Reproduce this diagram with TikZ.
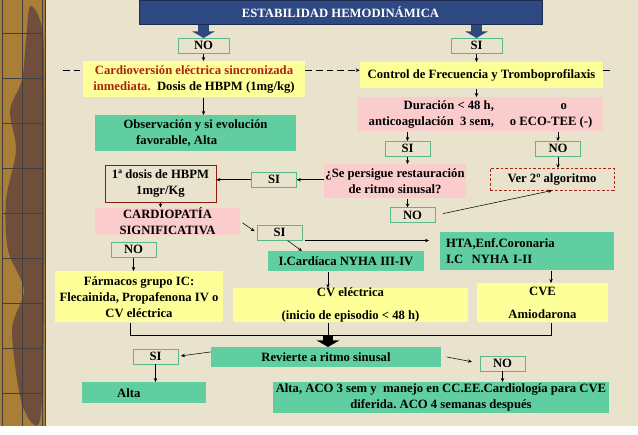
\documentclass[tikz,border=0pt]{standalone}
\usepackage{fontspec}
\setmainfont{Liberation Serif}
\usetikzlibrary{arrows.meta, positioning}
\definecolor{paper}{RGB}{233,227,205}
\definecolor{bandbrown}{RGB}{170,126,54}
\definecolor{banddark}{RGB}{112,78,60}
\definecolor{titleblue}{RGB}{46,72,130}
\definecolor{boxyellow}{RGB}{255,255,153}
\definecolor{boxpink}{RGB}{250,204,204}
\definecolor{boxgreen}{RGB}{96,206,160}
\definecolor{edgegreen}{RGB}{90,184,140}
\definecolor{darkred}{RGB}{170,34,20}
\tikzstyle{titlebox} = [rectangle, draw=titleblue!60!black, fill=titleblue, text=white, minimum width=302pt, minimum height=18pt]
\tikzstyle{ybox} = [rectangle, fill=boxyellow, align=center, inner sep=0pt]
\tikzstyle{pbox} = [rectangle, fill=boxpink, align=center, inner sep=0pt]
\tikzstyle{gbox} = [rectangle, fill=boxgreen, align=center, inner sep=0pt]
\tikzstyle{answer} = [rectangle, draw=edgegreen, minimum width=33.75pt, minimum height=11.25pt, inner sep=0pt]
\tikzstyle{verbox} = [rectangle, draw=darkred, dash pattern=on 2pt off 1.5pt, minimum width=93pt, minimum height=16.5pt, inner sep=0pt]
\tikzstyle{dosisbox} = [rectangle, draw=darkred!85!black, line width=0.6pt, align=center, inner sep=0pt]
\tikzstyle{connector} = [thin, -{Stealth[length=3pt, width=2.6pt]}]
\tikzstyle{dashconn} = [thin, dash pattern=on 5pt off 3pt]
\tikzstyle{blockarrow} = [line width=8pt, -{Triangle[length=5pt, width=17pt]}]

\begin{document}
\begin{tikzpicture}[x=0.75pt, y=-0.75pt, every node/.style={font=\bfseries\fontsize{9.5}{12}\selectfont}]

  % Background and left band
  \fill[paper] (0,0) rectangle (638,426);
  \fill[bandbrown] (0,0) rectangle (45,426);
  \fill[banddark] plot[smooth cycle] coordinates {(30,6) (40,20) (44,60) (44,300) (40,420) (22,404) (12,330) (24,290) (8,250) (6,200) (16,150) (10,110) (22,80) (26,40)};
  \draw[black!75] (2,0) -- (2,426) (22,0) -- (22,426) (42,0) -- (42,426) (45,0) -- (45,426);
  \foreach \y in {33,78,...,393}
    \draw[black!75] (2,\y) -- (42,\y);

  % Top
  \node (title) at (340.5,12) [titlebox] {ESTABILIDAD HEMODINÁMICA};
  \node (no1) at (203.5,45.5) [answer, minimum width=38.25pt] {NO};
  \node (si1) at (476.5,45.5) [answer, minimum width=38.25pt] {SI};

  % Left branch: unstable
  \node (cardio) at (194,79) [ybox, minimum width=166.5pt, minimum height=27pt] {\textcolor{darkred}{Cardioversión eléctrica sincronizada}\\\textcolor{darkred}{inmediata.}\ \ Dosis de HBPM (1mg/kg)};
  \node (obs) at (195.5,133) [gbox, minimum width=150.75pt, minimum height=27pt, align=left] {Observación y si evolución\\\hspace*{1em}favorable, Alta};

  % Right branch: stable
  \node (control) at (481.5,75) [ybox, minimum width=182.25pt, minimum height=19.5pt] {Control de Frecuencia y Tromboprofilaxis};
  \node (dur) at (480.5,114) [pbox, minimum width=183.75pt, minimum height=25.5pt] {\begin{tabular}{@{}r@{\hspace{12pt}}c@{}}Duración < 48 h, & \hspace{2em}o\\anticoagulación\ \ 3 sem, & o ECO-TEE (-)\end{tabular}};
  \node (si2) at (407.5,148.5) [answer] {SI};
  \node (no2) at (558,148.5) [answer] {NO};
  \node (persigue) at (395,181) [pbox, minimum width=106.5pt, minimum height=25.5pt] {¿Se persigue restauración\\de ritmo sinusal?};
  \node (ver) at (552,179) [verbox] {Ver 2º algoritmo};
  \node (si3) at (274,179.5) [answer] {SI};
  \node (dosis) at (160.5,183.5) [dosisbox, minimum width=83.25pt, minimum height=27.75pt] {1ª dosis de HBPM\\1mgr/Kg};
  \node (no3) at (412.5,215) [answer] {NO};

  % Cardiopathy
  \node (cardiop) at (167.5,221) [pbox, minimum width=108.75pt, minimum height=19.5pt] {CARDIOPATÍA\\SIGNIFICATIVA};
  \node (si4) at (279.5,232.5) [answer] {SI};
  \node (no4) at (133.5,249.5) [answer] {NO};
  \node (icard) at (346,261) [gbox, minimum width=117pt, minimum height=15pt] {I.Cardíaca NYHA III-IV};
  \node (hta) at (527,251) [gbox, text width=121.5pt, inner xsep=4.5pt, minimum height=28.5pt, align=left] {HTA,Enf.Coronaria\\I.C\ \ NYHA I-II};
  \node (farm) at (139,296.5) [ybox, minimum width=126pt, minimum height=38.25pt] {Fármacos grupo IC:\\Flecainida, Propafenona IV o\\CV eléctrica};
  \node (cvel) at (350.5,305) [ybox, minimum width=176.25pt, minimum height=25.5pt] {CV eléctrica\\[5pt](inicio de episodio < 48 h)};
  \node (cve) at (542.5,302.5) [ybox, minimum width=98.25pt, minimum height=29.25pt] {CVE\\[5pt]Amiodarona};

  % Outcome
  \node (rev) at (326,357) [gbox, minimum width=172.5pt, minimum height=15pt] {Revierte a ritmo sinusal};
  \node (si5) at (155.5,356) [answer] {SI};
  \node (no5) at (502.5,363) [answer] {NO};
  \node (alta) at (144,392.5) [gbox, minimum width=93pt, minimum height=15.75pt] {Alta\hspace{2.4em}};
  \node (altaaco) at (441,397.5) [gbox, minimum width=252pt, minimum height=23.25pt] {Alta, ACO 3 sem y\ \ manejo en CC.EE.Cardiología para CVE\\diferida.\ ACO 4 semanas después};

  % Joints
  \coordinate (dl) at (63,70);
  \coordinate (dr) at (612,70);
  \coordinate (ljoin) at (130,335);
  \coordinate (merge) at (328,335);
  \coordinate (rjoin) at (551,335);

  % Dashed line
  \draw[dashconn] (dl) -- (dl -| cardio.west);
  \draw[dashconn, -{Stealth[length=3pt, width=2.6pt]}] (dl -| cardio.east) -- (dl -| control.west);
  \draw[dashconn] (dl -| control.east) -- (dr);

  % Arrows from title
  \draw[blockarrow, titleblue] (title.south -| no1) -- (no1.north);
  \draw[blockarrow, titleblue] (title.south -| si1) -- (si1.north);
  \draw[connector] (no1.south) -- (no1.south |- cardio.north);
  \draw[connector] (si1.south) -- (si1.south |- control.north);
  \draw[connector] (cardio.south -| no1) -- (obs.north -| no1);

  % Arrows on the stable side
  \draw[connector] (control.south -| si1) -- (dur.north -| si1);
  \draw[connector] (dur.south -| si2) -- (si2.north);
  \draw[connector] (dur.south -| no2) -- (no2.north);
  \draw[connector] (si2.south) -- (si2.south |- persigue.north);
  \draw[connector] (no2.south) -- (no2.south |- ver.north);
  \draw[connector] (persigue.west |- si3) -- (si3.east);
  \draw[connector] (si3.west) -- (si3.west -| dosis.east);
  \draw[connector] (persigue.south -| si2) -- (no3.north -| si2);
  \draw[connector, shorten <=6pt] (no3.east) -- (ver.south);

  % Arrows from cardiopathy
  \draw[connector] (dosis.south) -- (cardiop.north -| dosis.south);
  \draw[connector, shorten <=2pt, shorten >=2pt] (cardiop.east) -- (si4.west);
  \draw[connector, shorten <=2pt, shorten >=8pt] (si4.south east) -- (si4.south east -| hta.west);
  \draw[connector] ([xshift=6pt]si4.south) -- ([xshift=-33pt]icard.north);
  \draw[connector] (no4.south) -- (no4.south |- farm.north);
  \draw[connector] (icard.south -| merge) -- (cvel.north -| merge);
  \draw[connector] (hta.south -| rjoin) -- (cve.north -| rjoin);

  % Joining lines
  \draw (farm.south -| ljoin) -- (ljoin) -- (rjoin) -- (cve.south -| rjoin);
  \draw (cvel.south -| merge) -- (merge);
  \draw[blockarrow] (merge) -- (rev.north -| merge);

  % Arrows from outcome
  \draw[connector, shorten >=2pt] ([yshift=4pt]rev.west) -- (si5.east);
  \draw[connector, shorten <=4pt, shorten >=6pt] ([yshift=1pt]rev.east) -- (no5.west);
  \draw[connector] (si5.south) -- (si5.south |- alta.north);
  \draw[connector] (no5.south) -- (no5.south |- altaaco.north);

\end{tikzpicture}
\end{document}
